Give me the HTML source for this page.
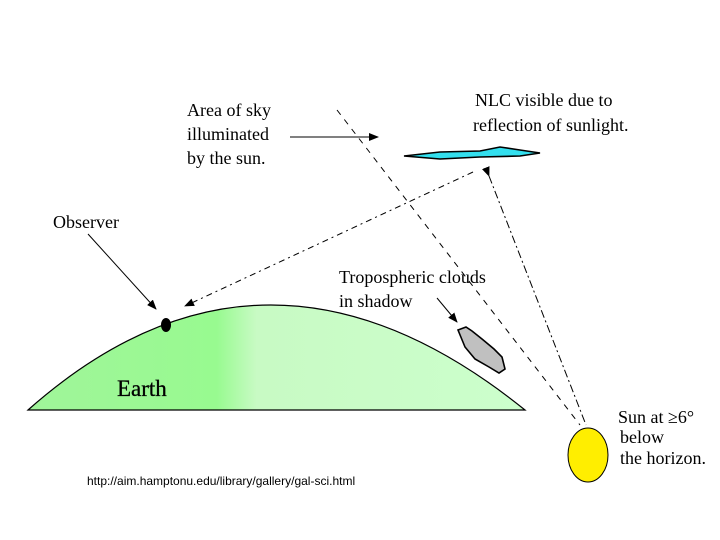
<!DOCTYPE html>
<html><head><style>body{margin:0;background:#fff}svg{display:block}text{font-family:"Liberation Serif",serif;fill:#000}</style></head><body>
<svg width="720" height="540" viewBox="0 0 720 540">
<defs>
<linearGradient id="g" x1="0" x2="1"><stop offset="0" stop-color="#a0f59a"/><stop offset="0.38" stop-color="#98fa90"/><stop offset="0.46" stop-color="#c8fac4"/><stop offset="1" stop-color="#ccffcc"/></linearGradient>
<marker id="a" markerWidth="10" markerHeight="8" refX="9" refY="4" orient="auto" markerUnits="userSpaceOnUse"><path d="M0,0L10,4L0,8z" fill="#000"/></marker>
</defs>
<path d="M28,410 Q265,200 525,410 Z" fill="url(#g)" stroke="#000" stroke-width="1.2"/>
<ellipse cx="166" cy="325" rx="5" ry="7" fill="#000"/>
<text x="117" y="396" font-size="23" stroke="#000" stroke-width="0.3">Earth</text>
<path d="M458,330 l8,-3 l6,4 l10,8 l12,10 l8,8 l3,12 l-6,4 l-10,-6 l-14,-8 l-10,-12 z" fill="#c0c0c0" stroke="#000" stroke-width="1.6"/>
<path d="M404,156 L440,152 L480,151 L500,147 L520,150 L540,153 L520,156 L480,157 L440,159 Z" fill="#33dfee" stroke="#000" stroke-width="1.6"/>
<ellipse cx="588" cy="455" rx="20" ry="27" fill="#ffee00" stroke="#000"/>
<g stroke="#000" stroke-width="1" fill="none">
<line x1="337" y1="110" x2="580" y2="425" stroke-dasharray="6,6"/>
<line x1="489" y1="176" x2="586" y2="425" stroke-dasharray="8,3,2,3" marker-start="url(#a)"/>
<line x1="473" y1="172" x2="185" y2="306" stroke-dasharray="6,4,2,4" marker-end="url(#a)"/>
<line x1="290" y1="137" x2="378" y2="137" marker-end="url(#a)"/>
<line x1="88" y1="234" x2="156" y2="309" marker-end="url(#a)"/>
<line x1="437" y1="298" x2="457" y2="322" marker-end="url(#a)"/>
</g>
<text font-size="18"><tspan x="187" y="116">Area of sky</tspan><tspan x="187" y="140">illuminated</tspan><tspan x="187" y="164">by the sun.</tspan></text>
<text font-size="18"><tspan x="475" y="106">NLC visible due to</tspan><tspan x="473" y="131">reflection of sunlight.</tspan></text>
<text x="53" y="228" font-size="18">Observer</text>
<text font-size="18"><tspan x="339" y="283">Tropospheric clouds</tspan><tspan x="339" y="307">in shadow</tspan></text>
<text font-size="18"><tspan x="618" y="423">Sun at ≥6°</tspan><tspan x="620" y="443">below</tspan><tspan x="620" y="464">the horizon.</tspan></text>
<text x="87" y="485" font-size="12" style="font-family:'Liberation Sans',sans-serif">http://aim.hamptonu.edu/library/gallery/gal-sci.html</text>
</svg>
</body></html>
